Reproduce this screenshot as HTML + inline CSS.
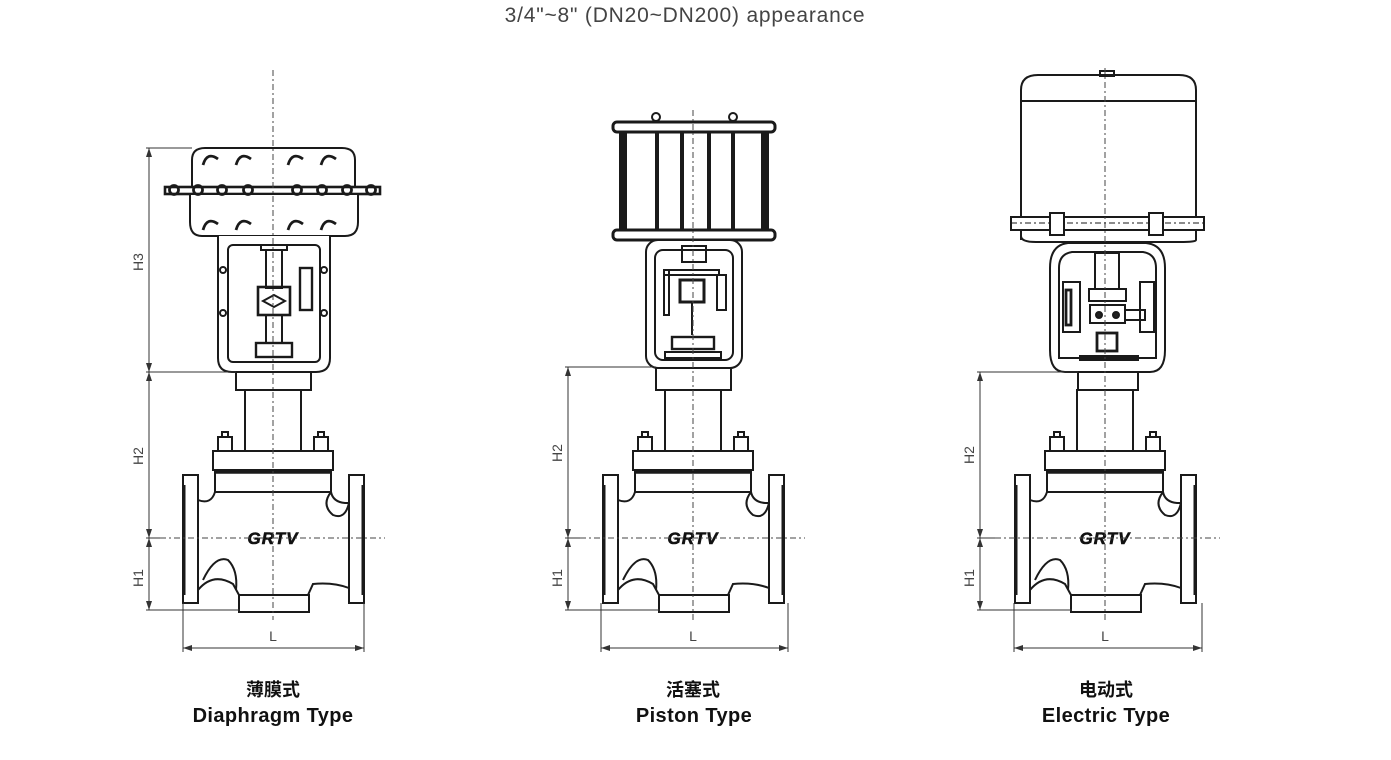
<!DOCTYPE html>
<html><head><meta charset="utf-8"><style>
html,body{margin:0;padding:0;background:#fff;width:1391px;height:760px;overflow:hidden}
svg{display:block}
</style></head><body>
<svg width="1391" height="760" viewBox="0 0 1391 760" xmlns="http://www.w3.org/2000/svg">
<defs>
<g id="body" fill="none" stroke="#1a1a1a" stroke-width="2">
  <rect x="-90" y="475" width="15" height="128" fill="#fff"/>
  <rect x="76" y="475" width="15" height="128" fill="#fff"/>
  <line x1="-89" y1="485" x2="-89" y2="595" stroke-width="3"/>
  <line x1="90" y1="485" x2="90" y2="595" stroke-width="3"/>
  <path d="M-75 500 Q-62 505 -58 492 L58 492 Q60 502 72 503 L76 503 L76 588 Q60 582 40 584 L35 595 L-34 595 L-40 584 Q-60 572 -75 590 Z" fill="#fff"/>
  <path d="M-70 580 Q-58 555 -45 560 Q-35 570 -37 590" />
  <path d="M58 492 Q48 505 60 515 Q72 520 76 503"/>
  <rect x="-34" y="595" width="70" height="17" fill="#fff"/>
  <rect x="-58" y="470" width="116" height="22" fill="#fff"/>
  <line x1="-58" y1="472" x2="58" y2="472" stroke-width="3.5"/>
  <rect x="-60" y="451" width="120" height="19" fill="#fff"/>
  <rect x="-55" y="437" width="14" height="14" fill="#fff"/>
  <rect x="-51" y="432" width="6" height="5"/>
  <rect x="41" y="437" width="14" height="14" fill="#fff"/>
  <rect x="45" y="432" width="6" height="5"/>
  <rect x="-28" y="390" width="56" height="61" fill="#fff"/>
  <text x="0" y="544" text-anchor="middle" font-family="Liberation Sans, sans-serif" font-weight="bold" font-style="italic" font-size="17" fill="#111" stroke="#111" stroke-width="0.6" letter-spacing="1">GRTV</text>
</g>
</defs>

<text x="685" y="22" text-anchor="middle" font-family="Liberation Sans, sans-serif" font-size="21" letter-spacing="0.8" fill="#444">3/4"~8" (DN20~DN200) appearance</text>

<!-- ========== Diaphragm ========== -->
<use href="#body" transform="translate(273,0)"/>
<g fill="none" stroke="#1a1a1a" stroke-width="2">
  <rect x="236" y="372" width="75" height="18" fill="#fff"/>
  <path d="M192 190 L192 160 Q192 148 205 148 L342 148 Q355 148 355 160 L355 190 Z" fill="#fff"/>
  <rect x="165" y="187" width="215" height="7" fill="#fff" stroke-width="2.6"/>
  <path d="M190 194 L358 194 L358 222 Q358 236 345 236 L202 236 Q190 236 190 222 Z" fill="#fff"/>
  <g stroke-width="2.8">
    <circle cx="174" cy="190" r="4.5"/><circle cx="198" cy="190" r="4.5"/><circle cx="222" cy="190" r="4.5"/><circle cx="248" cy="190" r="4.5"/><circle cx="297" cy="190" r="4.5"/><circle cx="322" cy="190" r="4.5"/><circle cx="347" cy="190" r="4.5"/><circle cx="371" cy="190" r="4.5"/>
    <path d="M203 165 q4 -14 15 -6 M236 165 q4 -14 15 -6 M288 165 q4 -14 15 -6 M321 165 q4 -14 15 -6"/>
    <path d="M203 230 q4 -14 15 -6 M236 230 q4 -14 15 -6 M288 230 q4 -14 15 -6 M321 230 q4 -14 15 -6"/>
  </g>
  <path d="M218 236 L218 358 Q218 372 232 372 L316 372 Q330 372 330 358 L330 236" fill="#fff"/>
  <rect x="228" y="245" width="92" height="117" rx="5"/>
  <rect x="261" y="245" width="26" height="5"/>
  <rect x="266" y="250" width="16" height="38"/>
  <rect x="258" y="287" width="32" height="28" stroke-width="2.6"/>
  <path d="M263 301 l11 -6 l11 6 l-11 6 z"/>
  <rect x="300" y="268" width="12" height="42" stroke-width="2.4"/>
  <rect x="266" y="315" width="16" height="28"/>
  <rect x="256" y="343" width="36" height="14" stroke-width="2.4"/>
  <circle cx="223" cy="270" r="3"/><circle cx="223" cy="313" r="3"/><circle cx="324" cy="270" r="3"/><circle cx="324" cy="313" r="3"/>
</g>
<line x1="273" y1="70" x2="273" y2="620" stroke="#444" stroke-width="1" stroke-dasharray="6,3,2,3"/>
<line x1="160" y1="538" x2="385" y2="538" stroke="#444" stroke-width="1" stroke-dasharray="6,3,2,3"/>

<!-- ========== Piston ========== -->
<use href="#body" transform="translate(693,0)"/>
<g fill="none" stroke="#1a1a1a" stroke-width="2">
  <rect x="656" y="367" width="75" height="23" fill="#fff"/>
  <circle cx="656" cy="117" r="4"/><circle cx="733" cy="117" r="4"/>
  <rect x="613" y="122" width="162" height="10" rx="4" fill="#fff" stroke-width="3"/>
  <rect x="613" y="230" width="162" height="10" rx="4" fill="#fff" stroke-width="3"/>
  <g stroke-width="4">
    <line x1="621" y1="132" x2="621" y2="230"/><line x1="625" y1="132" x2="625" y2="230"/>
    <line x1="657" y1="132" x2="657" y2="230"/><line x1="682" y1="132" x2="682" y2="230"/>
    <line x1="709" y1="132" x2="709" y2="230"/><line x1="733" y1="132" x2="733" y2="230"/>
    <line x1="763" y1="132" x2="763" y2="230"/><line x1="767" y1="132" x2="767" y2="230"/>
  </g>
  <rect x="646" y="240" width="96" height="128" rx="12" fill="#fff"/>
  <rect x="655" y="250" width="78" height="110" rx="8"/>
  <rect x="682" y="246" width="24" height="16"/>
  <rect x="664" y="270" width="55" height="5"/>
  <rect x="680" y="280" width="24" height="22" stroke-width="3"/>
  <rect x="717" y="275" width="9" height="35"/>
  <line x1="692" y1="302" x2="692" y2="335"/>
  <rect x="672" y="337" width="42" height="12" stroke-width="2.4"/>
  <rect x="665" y="352" width="56" height="6"/>
  <rect x="664" y="270" width="5" height="45"/>
</g>
<line x1="693" y1="110" x2="693" y2="620" stroke="#444" stroke-width="1" stroke-dasharray="6,3,2,3"/>
<line x1="580" y1="538" x2="805" y2="538" stroke="#444" stroke-width="1" stroke-dasharray="6,3,2,3"/>

<!-- ========== Electric ========== -->
<use href="#body" transform="translate(1105,0)"/>
<g fill="none" stroke="#1a1a1a" stroke-width="2">
  <rect x="1078" y="372" width="60" height="18" fill="#fff"/>
  <path d="M1021 240 L1021 90 Q1021 75 1038 75 L1179 75 Q1196 75 1196 90 L1196 240 Q1196 242 1180 242 L1036 242 Q1021 242 1021 236 Z" fill="#fff"/>
  <line x1="1021" y1="101" x2="1196" y2="101"/>
  <rect x="1100" y="71" width="14" height="5"/>
  <rect x="1011" y="217" width="193" height="13" fill="#fff"/>
  <line x1="1011" y1="223" x2="1204" y2="223" stroke-dasharray="6,3,2,3" stroke-width="1"/>
  <rect x="1050" y="213" width="14" height="22" fill="#fff"/><rect x="1149" y="213" width="14" height="22" fill="#fff"/>
  <path d="M1068 243 L1146 243 Q1165 245 1165 268 L1165 350 Q1165 372 1150 372 L1065 372 Q1050 372 1050 350 L1050 268 Q1050 245 1068 243 Z" fill="#fff"/>
  <path d="M1072 252 L1143 252 Q1156 254 1156 268 L1156 358 L1059 358 L1059 268 Q1059 254 1072 252 Z"/>
  <rect x="1063" y="282" width="17" height="50"/>
  <rect x="1066" y="290" width="5" height="35" stroke-width="2.8"/>
  <rect x="1095" y="253" width="24" height="36"/>
  <rect x="1089" y="289" width="37" height="12"/>
  <rect x="1090" y="305" width="35" height="18"/>
  <circle cx="1099" cy="315" r="3" fill="#222"/><circle cx="1116" cy="315" r="3" fill="#222"/>
  <rect x="1125" y="310" width="20" height="10"/>
  <rect x="1140" y="282" width="14" height="50"/>
  <rect x="1097" y="333" width="20" height="18" stroke-width="2.8"/>
  <rect x="1080" y="356" width="58" height="4"/>
</g>
<line x1="1105" y1="68" x2="1105" y2="620" stroke="#444" stroke-width="1" stroke-dasharray="6,3,2,3"/>
<line x1="995" y1="538" x2="1220" y2="538" stroke="#444" stroke-width="1" stroke-dasharray="6,3,2,3"/>

<!-- ========== Dimensions ========== -->
<g stroke="#333" stroke-width="1" fill="#333" font-family="Liberation Sans, sans-serif" font-size="14">
  <line x1="149" y1="148" x2="149" y2="610"/>
  <line x1="146" y1="148" x2="192" y2="148"/><line x1="146" y1="372" x2="236" y2="372"/>
  <line x1="146" y1="538" x2="160" y2="538"/><line x1="146" y1="610" x2="240" y2="610"/>
  <line x1="183" y1="603" x2="183" y2="652"/><line x1="364" y1="603" x2="364" y2="652"/>
  <line x1="183" y1="648" x2="364" y2="648"/>
  <path d="M149 148 l-3 9 h6z M149 372 l-3 -9 h6z M149 372 l-3 9 h6z M149 538 l-3 -9 h6z M149 538 l-3 9 h6z M149 610 l-3 -9 h6z M183 648 l9 -3 v6z M364 648 l-9 -3 v6z" stroke="none"/>
  <line x1="568" y1="367" x2="568" y2="610"/>
  <line x1="565" y1="367" x2="656" y2="367"/><line x1="565" y1="538" x2="580" y2="538"/><line x1="565" y1="610" x2="660" y2="610"/>
  <line x1="601" y1="603" x2="601" y2="652"/><line x1="788" y1="603" x2="788" y2="652"/>
  <line x1="601" y1="648" x2="788" y2="648"/>
  <path d="M568 367 l-3 9 h6z M568 538 l-3 -9 h6z M568 538 l-3 9 h6z M568 610 l-3 -9 h6z M601 648 l9 -3 v6z M788 648 l-9 -3 v6z" stroke="none"/>
  <line x1="980" y1="372" x2="980" y2="610"/>
  <line x1="977" y1="372" x2="1078" y2="372"/><line x1="977" y1="538" x2="995" y2="538"/><line x1="977" y1="610" x2="1072" y2="610"/>
  <line x1="1014" y1="603" x2="1014" y2="652"/><line x1="1202" y1="603" x2="1202" y2="652"/>
  <line x1="1014" y1="648" x2="1202" y2="648"/>
  <path d="M980 372 l-3 9 h6z M980 538 l-3 -9 h6z M980 538 l-3 9 h6z M980 610 l-3 -9 h6z M1014 648 l9 -3 v6z M1202 648 l-9 -3 v6z" stroke="none"/>
  <g stroke="none" fill="#444">
    <text transform="translate(143,262) rotate(-90)" text-anchor="middle">H3</text>
    <text transform="translate(143,456) rotate(-90)" text-anchor="middle">H2</text>
    <text transform="translate(143,578) rotate(-90)" text-anchor="middle">H1</text>
    <text x="273" y="641" text-anchor="middle">L</text>
    <text transform="translate(562,453) rotate(-90)" text-anchor="middle">H2</text>
    <text transform="translate(562,578) rotate(-90)" text-anchor="middle">H1</text>
    <text x="693" y="641" text-anchor="middle">L</text>
    <text transform="translate(974,455) rotate(-90)" text-anchor="middle">H2</text>
    <text transform="translate(974,578) rotate(-90)" text-anchor="middle">H1</text>
    <text x="1105" y="641" text-anchor="middle">L</text>
  </g>
</g>

<g font-family="Liberation Sans, 'Noto Sans CJK SC', sans-serif" font-weight="bold" fill="#111" text-anchor="middle">
  <text x="273" y="696" font-size="18">薄膜式</text>
  <text x="273" y="722" font-size="20" letter-spacing="0.4">Diaphragm Type</text>
  <text x="693" y="696" font-size="18">活塞式</text>
  <text x="694" y="722" font-size="20" letter-spacing="0.4">Piston Type</text>
  <text x="1106" y="696" font-size="18">电动式</text>
  <text x="1106" y="722" font-size="20" letter-spacing="0.4">Electric Type</text>
</g>
</svg>
</body></html>
